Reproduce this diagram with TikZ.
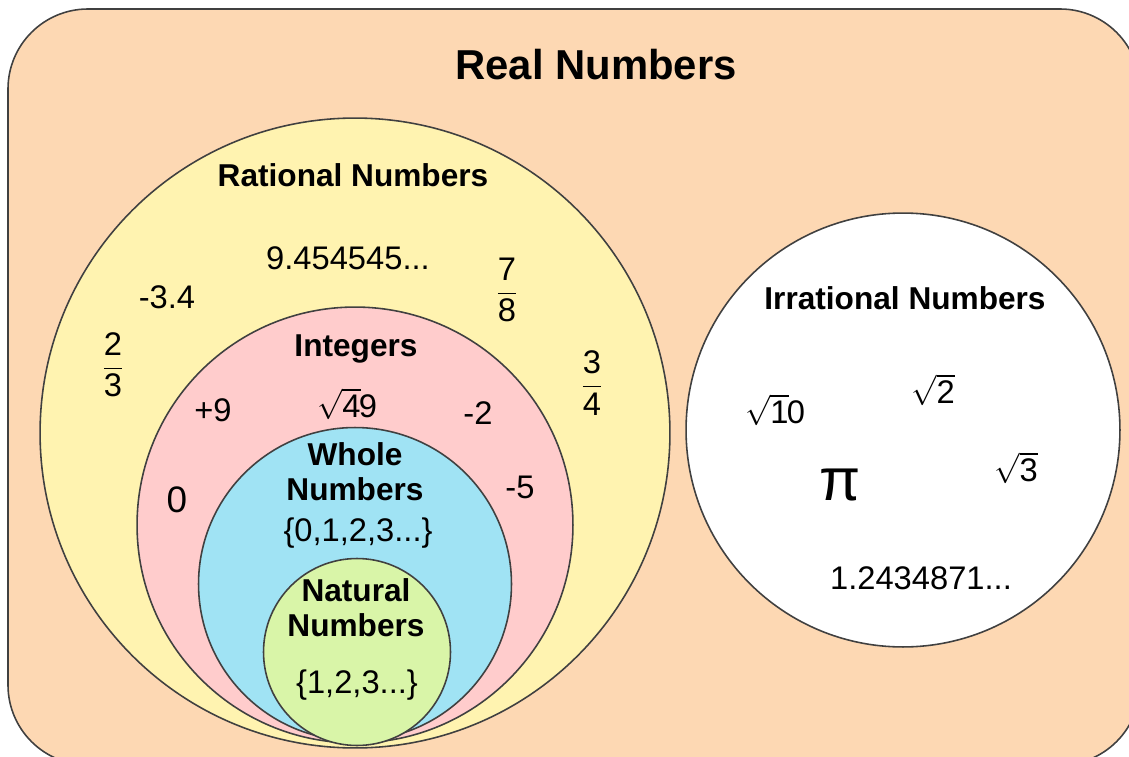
\documentclass[tikz,border=0pt]{standalone}
\usepackage{amsmath}
\usepackage{fontspec}
\setmainfont{Liberation Sans}
\usepackage{xcolor}
\usetikzlibrary{positioning}

\definecolor{realfill}{RGB}{253,216,179}
\definecolor{ratfill}{RGB}{255,243,176}
\definecolor{intfill}{RGB}{255,204,204}
\definecolor{wholefill}{RGB}{160,227,244}
\definecolor{natfill}{RGB}{217,245,168}
\definecolor{edge}{RGB}{64,64,64}

\newcommand{\fr}[2]{$\genfrac{}{}{0.6pt}{0}{\text{#1}}{\text{#2}}$}

\begin{document}
\begin{tikzpicture}[
  x=0.02cm, y=-0.02cm,
  set/.style={circle, draw=edge, line width=0.9pt, inner sep=0pt},
  title/.style={font=\bfseries\fontsize{18}{20}\selectfont, align=center},
  num/.style={font=\fontsize{18.6}{20}\selectfont}
]
  \useasboundingbox (0,0) rectangle (1129,757);
  % Reelle Zahlen
  \draw[draw=edge, fill=realfill, line width=0.9pt, rounded corners=1.6cm] (8,9) rectangle (1140,765);
  \node[font=\bfseries\fontsize{23.8}{26}\selectfont] (real) at (596,65) {Real Numbers};

  % Mengen
  \node[set, fill=ratfill, minimum size=12.6cm] (rat) at (355,433) {};
  \node[set, fill=intfill, minimum size=8.72cm] (int) at (355,525) {};
  \node[set, fill=wholefill, minimum size=6.26cm] (whole) at (355,584) {};
  \node[set, fill=natfill, minimum size=3.74cm] (nat) at (357,652) {};
  \node[set, fill=white, minimum size=8.68cm] (irr) at (903,430) {};

  % Rationale Zahlen
  \node[title] (ratT) at (353,175) {Rational Numbers};
  \node[num] (r1) at (348,258) {9.454545...};
  \node[num] (r2) at (167,297) {-3.4};
  \node[num] (r3) at (507,290) {\fr{7}{8}};
  \node[num] (r4) at (113,365) {\fr{2}{3}};
  \node[num] (r5) at (592,383) {\fr{3}{4}};

  % Ganze Zahlen
  \node[title, inner sep=1pt] (intT) at (356,349) {Integers};
  \node[num, inner sep=1pt] (i2) at (347,404) {$\sqrt{\text{4}}$\kern-1pt9};
  \node[num] (i1) at (213,410) {+9};
  \node[num] (i3) at (478,413) {-2};
  \node[num, font=\fontsize{21}{23}\selectfont] (i4) at (177,500) {0};
  \node[num] (i5) at (520,487) {-5};

  % Natuerliche Zahlen mit Null
  \node[title] (wholeT) at (355,472) {Whole\\Numbers};
  \node[num] (w1) at (358,533) {\{0,1,2,3...\}};

  % Natuerliche Zahlen
  \node[title] (natT) at (356,608) {Natural\\Numbers};
  \node[num] (n1) at (357,685) {\{1,2,3...\}};

  % Irrationale Zahlen
  \node[title] (irrT) at (905,298) {Irrational Numbers};
  \node[num] (q1) at (775,410) {$\sqrt{\text{1}}$\kern-1pt0};
  \node[num] (q2) at (933,390) {$\sqrt{\text{2}}$};
  \node[font=\fontsize{34}{36}\selectfont] (q3) at (840,485) {π};
  \node[num] (q4) at (1016,468) {$\sqrt{\text{3}}$};
  \node[num] (q5) at (921,578) {1.2434871...};
\end{tikzpicture}
\end{document}
